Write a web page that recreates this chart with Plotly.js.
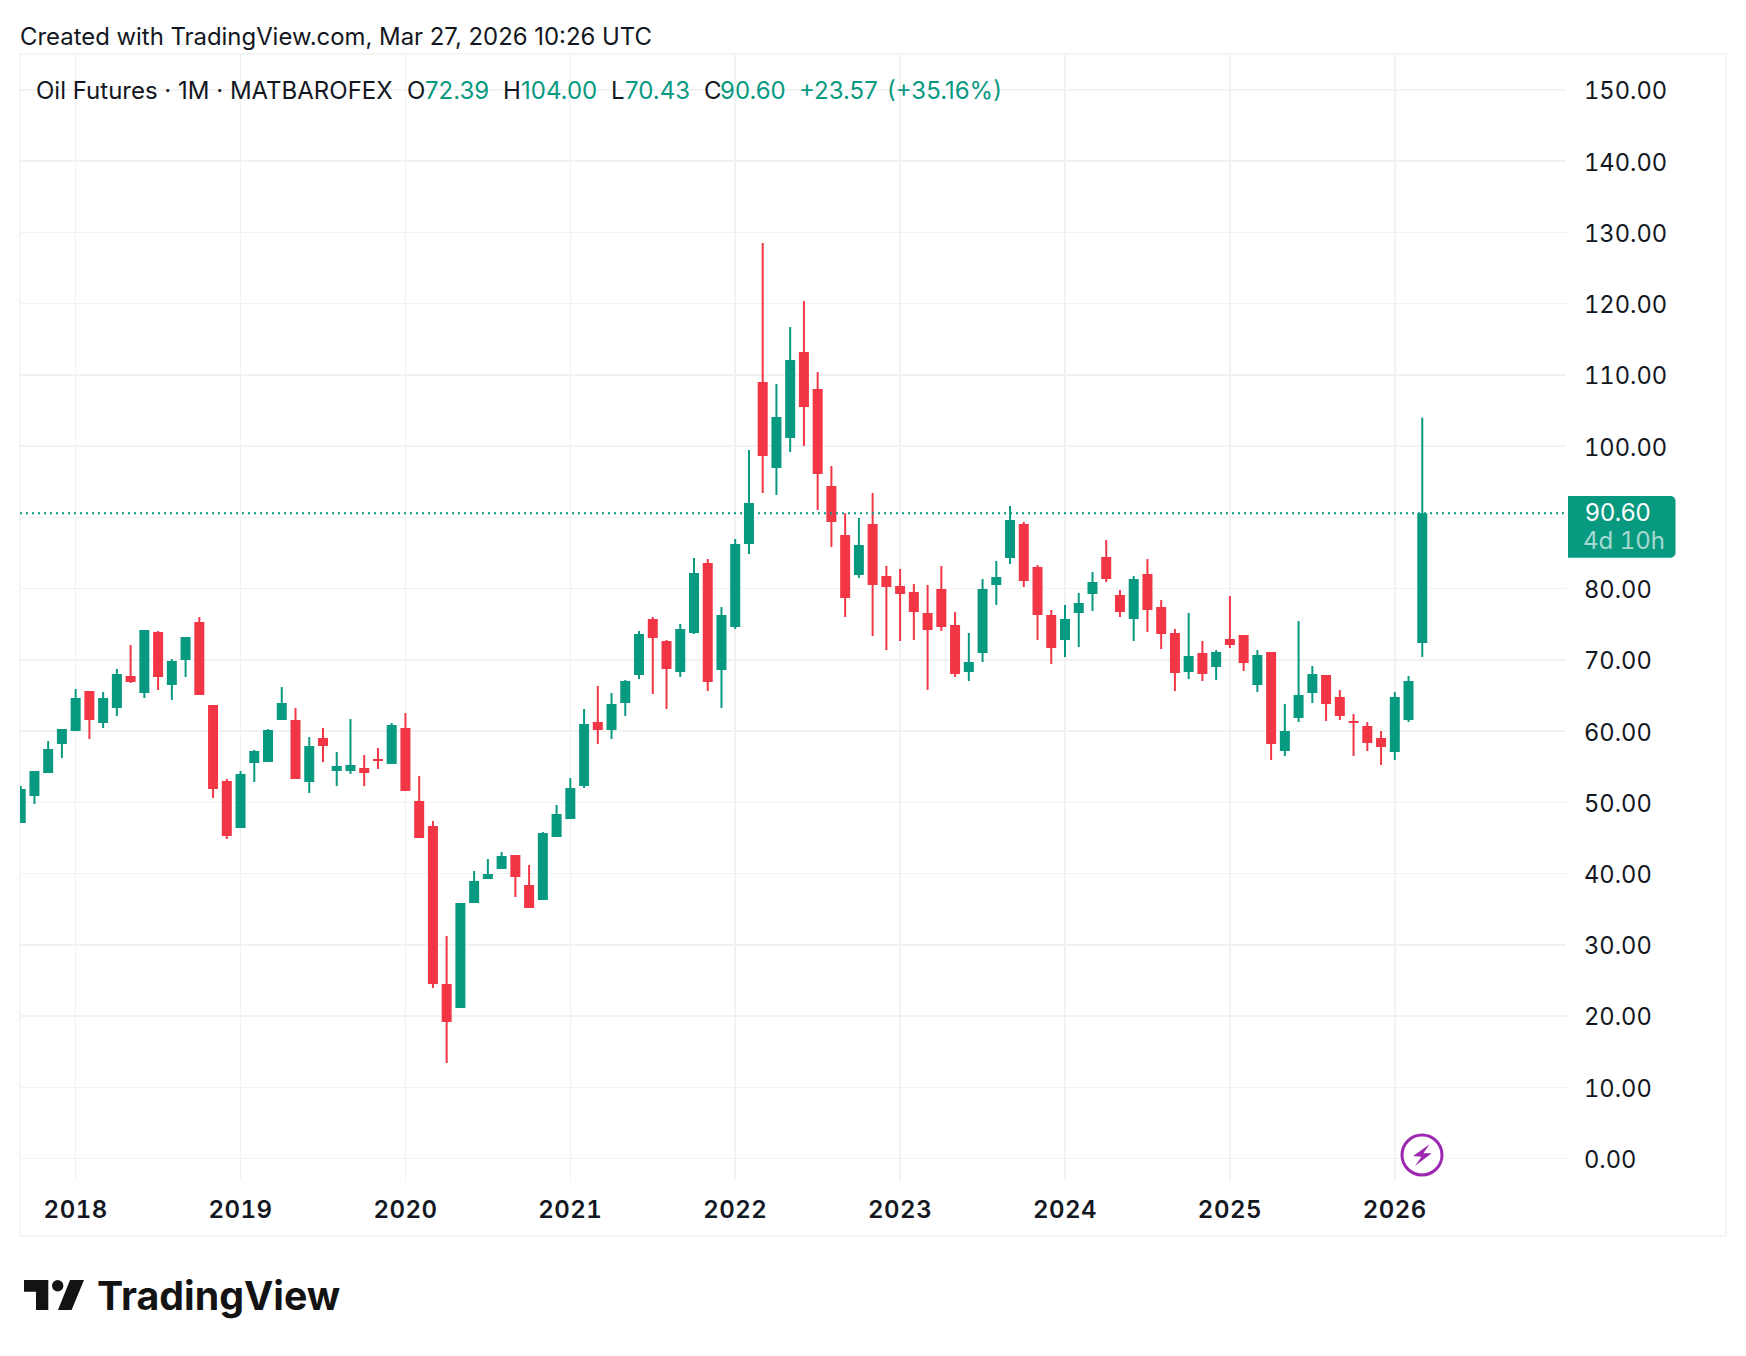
<!DOCTYPE html>
<html>
<head>
<meta charset="utf-8">
<script src="https://cdn.plot.ly/plotly-3.0.1.min.js"></script>
<style>html,body{margin:0;padding:0;background:#fff}#chart{width:1746px;height:1356px}
.ytick text{font-variant-numeric:tabular-nums;font-feature-settings:"tnum" 1}
.xtick text{font-variant-numeric:tabular-nums;font-feature-settings:"tnum" 1;letter-spacing:.5px}
</style>
</head>
<body>
<div id="chart"></div>
<script>
const months = [
"2017-09","2017-10","2017-11","2017-12",
"2018-01","2018-02","2018-03","2018-04","2018-05","2018-06","2018-07","2018-08","2018-09","2018-10","2018-11","2018-12",
"2019-01","2019-02","2019-03","2019-04","2019-05","2019-06","2019-07","2019-08","2019-09","2019-10","2019-11","2019-12",
"2020-01","2020-02","2020-03","2020-04","2020-05","2020-06","2020-07","2020-08","2020-09","2020-10","2020-11","2020-12",
"2021-01","2021-02","2021-03","2021-04","2021-05","2021-06","2021-07","2021-08","2021-09","2021-10","2021-11","2021-12",
"2022-01","2022-02","2022-03","2022-04","2022-05","2022-06","2022-07","2022-08","2022-09","2022-10","2022-11","2022-12",
"2023-01","2023-02","2023-03","2023-04","2023-05","2023-06","2023-07","2023-08","2023-09","2023-10","2023-11","2023-12",
"2024-01","2024-02","2024-03","2024-04","2024-05","2024-06","2024-07","2024-08","2024-09","2024-10","2024-11","2024-12",
"2025-01","2025-02","2025-03","2025-04","2025-05","2025-06","2025-07","2025-08","2025-09","2025-10","2025-11","2025-12",
"2026-01","2026-02","2026-03"];
const openP = [47.11,50.90,54.13,58.20,
60.02,65.64,61.15,63.25,67.74,65.36,73.92,66.48,70.00,75.32,63.67,53.01,
46.41,55.53,55.67,61.57,61.57,52.87,59.04,54.41,54.41,54.83,56.09,55.39,
60.45,50.20,46.69,24.52,21.15,35.88,39.25,40.66,42.62,38.41,36.30,45.15,
47.67,52.31,61.29,60.17,63.96,67.89,75.75,72.66,68.31,73.79,83.61,68.59,
74.63,86.28,109.01,96.94,101.15,113.22,108.03,94.42,87.54,81.93,89.08,81.79,
80.38,79.54,76.59,79.96,74.91,68.31,70.98,80.52,84.31,89.08,83.05,76.31,
72.80,76.59,79.26,84.45,79.12,75.75,82.06,77.43,73.78,68.30,70.97,69.01,
72.94,73.50,66.48,71.11,57.22,61.85,65.36,67.88,64.80,61.43,60.73,59.04,
57.08,61.57,72.39];
const highP = [52.30,54.41,58.62,60.30,
65.92,65.64,65.50,68.73,72.09,74.20,74.06,70.13,73.22,76.02,63.67,53.29,
54.41,57.36,60.30,66.20,63.25,59.18,60.45,57.08,61.71,56.66,57.64,61.15,
62.55,53.71,47.39,31.25,35.88,40.38,42.06,43.04,42.62,41.22,45.85,49.64,
53.43,63.12,66.35,65.36,67.19,74.07,76.03,72.80,75.05,84.31,84.17,77.43,
86.98,99.47,128.52,108.73,116.73,120.38,110.42,97.22,90.58,89.93,93.43,83.19,
82.77,80.66,80.52,83.19,76.73,73.79,81.36,83.89,91.61,89.36,83.33,77.01,
77.71,79.40,82.35,86.84,79.82,81.79,84.16,78.41,74.34,76.59,72.66,71.39,
78.97,73.50,71.39,71.11,63.81,75.46,69.15,67.88,65.78,62.41,61.29,60.02,
65.50,67.74,104.00];
const lowP = [47.11,49.78,54.13,56.23,
60.02,58.90,60.45,62.13,66.76,64.66,65.78,64.37,67.60,65.08,50.62,44.87,
46.41,52.87,55.67,61.57,53.29,51.32,55.67,52.30,53.99,52.30,54.69,55.39,
51.60,45.01,23.95,13.43,21.15,35.88,39.25,40.66,36.73,35.18,36.30,45.15,
47.67,52.03,58.20,58.91,62.14,67.33,65.22,63.12,67.61,73.65,65.64,63.26,
74.35,84.87,93.43,93.15,99.19,100.03,91.05,85.86,76.03,81.51,73.37,71.40,
72.66,72.80,65.79,74.07,67.61,67.05,69.71,77.71,83.47,80.24,72.80,69.43,
70.42,71.82,76.87,80.94,76.03,72.66,73.92,71.53,65.64,67.32,67.04,67.18,
71.67,68.45,65.50,55.95,56.52,61.29,63.95,61.43,61.57,56.52,57.22,55.25,
55.95,61.29,70.43];
const closeP = [51.88,54.41,57.50,60.30,
64.66,61.57,64.66,68.02,66.90,74.20,67.60,69.85,73.22,65.08,51.88,45.29,
53.99,57.22,60.16,63.95,53.29,57.92,57.92,55.11,55.25,54.13,55.81,60.87,
51.60,45.01,24.52,19.18,35.88,38.97,39.95,42.48,39.53,35.18,45.71,48.37,
52.02,61.01,60.17,63.82,67.05,73.64,73.08,68.73,74.35,82.21,66.91,76.31,
86.28,92.03,98.63,104.10,112.10,105.50,96.10,89.36,78.70,86.14,80.52,80.24,
79.26,76.73,74.21,74.63,68.03,69.71,79.96,81.65,89.64,81.08,76.31,71.68,
75.75,77.99,80.94,81.36,76.73,81.36,77.01,73.64,68.16,70.55,68.02,71.11,
72.10,69.57,70.69,58.20,60.02,65.08,68.02,63.81,62.13,61.15,58.34,57.78,
64.80,67.04,90.60];
const yearTickMonths = ["2018-01","2019-01","2020-01","2021-01","2022-01","2023-01","2024-01","2025-01","2026-01"];
const yearTickLabels = ["2018","2019","2020","2021","2022","2023","2024","2025","2026"];
const priceTicks = [0,10,20,30,40,50,60,70,80,90,100,110,120,130,140,150];
const priceTickLabels = ["0.00","10.00","20.00","30.00","40.00","50.00","60.00","70.00","80.00","","100.00","110.00","120.00","130.00","140.00","150.00"];
const lastPrice = 90.60;

const UP = "#089981", DOWN = "#F23645", INK = "#131722", GRID = "#f2f2f3";
const FONT = "Inter, 'Noto Sans', sans-serif";
const W = 1746, H = 1356, ML = 20, MR = 180, MT = 54, MB = 176;
const px = v => (v - ML) / (W - ML - MR);
const py = v => 1 - (v - MT) / (H - MT - MB);

function label(x, y, text, color, size, weight, anchor) {
  return {xref:"paper", yref:"paper", x:px(x), y:py(y), text:text, showarrow:false,
    xanchor:anchor||"left", yanchor:"middle", borderpad:0,
    font:{family:FONT, size:size, color:color, weight:weight||400}};
}
function pathOf(points) {
  return "M" + points.map(p => px(p[0]).toFixed(6) + "," + py(p[1]).toFixed(6)).join(" L") + " Z";
}
function filled(points, color) {
  return {type:"path", xref:"paper", yref:"paper", path:pathOf(points), fillcolor:color, line:{width:0}, layer:"above"};
}

const traces = [
  {type:"candlestick", x:months, open:openP, high:highP, low:lowP, close:closeP,
   increasing:{line:{color:UP,width:0}, fillcolor:UP},
   decreasing:{line:{color:DOWN,width:0}, fillcolor:DOWN},
   whiskerwidth:0, showlegend:false, hoverinfo:"skip"},
  {type:"ohlc", x:months, open:openP, high:highP, low:lowP, close:closeP, tickwidth:0,
   increasing:{line:{color:UP,width:2}},
   decreasing:{line:{color:DOWN,width:2}},
   showlegend:false, hoverinfo:"skip"}
];

const layout = {
  width:W, height:H, margin:{l:ML, r:MR, t:MT, b:MB, pad:0},
  paper_bgcolor:"#fff", plot_bgcolor:"#fff", showlegend:false, boxgap:0.272, boxgroupgap:0, boxmode:"overlay",
  font:{family:FONT, color:INK},
  xaxis:{type:"category", categoryorder:"array", categoryarray:months, range:[-0.05,112.46],
    rangeslider:{visible:false}, tickmode:"array", tickvals:yearTickMonths, ticktext:yearTickLabels,
    tickfont:{family:FONT, size:24, color:INK, weight:600}, ticklen:0, ticklabelstandoff:13,
    showgrid:true, gridcolor:GRID, gridwidth:1.5, zeroline:false, showline:false, fixedrange:true},
  yaxis:{side:"right", range:[-2.99,155.05], tickmode:"array", tickvals:priceTicks, ticktext:priceTickLabels,
    tickfont:{family:FONT, size:23.7, color:INK}, ticklen:0, ticklabelstandoff:17, ticklabelshift:1,
    showgrid:true, gridcolor:GRID, gridwidth:1.5, zeroline:false, showline:false, fixedrange:true},
  shapes:[
    {type:"rect", xref:"paper", yref:"paper", x0:px(20), x1:px(1726), y0:py(54), y1:py(1236),
     line:{color:GRID,width:1.5}, fillcolor:"rgba(0,0,0,0)", layer:"below"},
    {type:"line", xref:"paper", yref:"y", x0:0, x1:1, y0:lastPrice, y1:lastPrice,
     line:{color:UP,width:2,dash:"2px,4px"}, layer:"above"},
    filled([[1568,496],[1671,496],[1674,497],[1675.5,500],[1675.5,554],[1674,556.5],[1671,557.7],[1568,557.7]], UP),
    {type:"circle", xref:"paper", yref:"paper", x0:px(1402), x1:px(1442), y0:py(1135), y1:py(1175),
     line:{color:"#9C27B0",width:3}, fillcolor:"#fff", layer:"above"},
    filled([[1429.6,1144.3],[1413.1,1156],[1421.4,1156.7],[1415.2,1165.7],[1431.7,1153.3],[1423.4,1153.3]], "#9C27B0"),
    filled([[24,1280],[48.3,1280],[48.3,1310],[36,1310],[36,1291.7],[24,1291.7]], "#131313"),
    {type:"circle", xref:"paper", yref:"paper", x0:px(52), x1:px(63.4), y0:py(1280), y1:py(1291.4),
     fillcolor:"#131313", line:{width:0}, layer:"above"},
    filled([[70,1280],[84,1280],[71.6,1310],[58,1310]], "#131313")
  ],
  annotations:[
    label(19, 36, "Created with TradingView.com, Mar 27, 2026 10:26 UTC", INK, 23.9),
    label(35, 90, "Oil Futures · 1M · MATBAROFEX", INK, 24),
    label(405.5, 90, "O", INK, 24), label(424, 90, "72.39", UP, 24),
    label(502, 90, "H", INK, 24), label(520, 90, "104.00", UP, 24),
    label(610, 90, "L", INK, 24), label(624, 90, "70.43", UP, 24),
    label(703, 90, "C", INK, 24), label(719, 90, "90.60", UP, 24),
    label(797.5, 90, "+23.57", UP, 24), label(885.5, 90, "(+35.16%)", UP, 24),
    label(1583.5, 512, "90.60", "#ffffff", 24),
    label(1585, 540, "4d 10h", "rgba(255,255,255,0.65)", 24),
    label(96, 1295, "TradingView", "#131313", 39.3, 700)
  ]
};
Plotly.newPlot("chart", traces, layout, {staticPlot:true, displayModeBar:false}).then(() => {
  document.querySelectorAll(".annotation-text").forEach(el => {
    if (el.textContent === "4d 10h") el.style.fontVariantNumeric = "tabular-nums";
  });
});
</script>
</body>
</html>
